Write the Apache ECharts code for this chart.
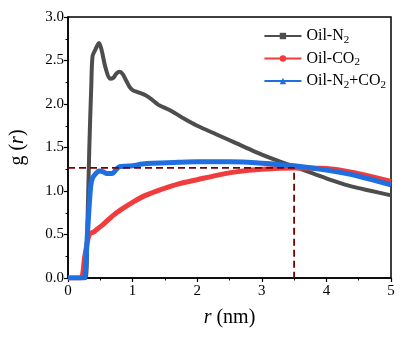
<!DOCTYPE html>
<html><head><meta charset="utf-8">
<script src="https://cdn.jsdelivr.net/npm/echarts@6/dist/echarts.min.js"></script>
<style>html,body{margin:0;padding:0;background:#fff}#c{width:405px;height:343px}</style>
</head><body><div id="c"></div>
<script>
const n2R = [0,0.1,0.2,0.27,0.3,0.33,0.36,0.38,0.42,0.48,0.52,0.58,0.65,0.7,0.75,0.8,0.85,0.9,0.95,1.0,1.1,1.2,1.3,1.4,1.6,1.8,2.0,2.3,2.6,2.9,3.2,3.5,3.8,4.1,4.4,4.7,5.0];
const n2G = [0,0,0,0,0.6,1.5,2.2,2.55,2.62,2.7,2.62,2.42,2.29,2.3,2.35,2.37,2.34,2.27,2.2,2.16,2.13,2.1,2.05,1.99,1.92,1.83,1.75,1.65,1.55,1.45,1.36,1.28,1.2,1.12,1.05,1.0,0.95];
const co2R = [0,0.1,0.2,0.26,0.33,0.4,0.45,0.55,0.7,0.85,1.0,1.2,1.45,1.7,2.0,2.3,2.6,3.0,3.5,4.0,4.5,5.0];
const co2G = [0,0,0,0.25,0.5,0.53,0.56,0.62,0.72,0.8,0.87,0.95,1.02,1.08,1.13,1.18,1.22,1.25,1.265,1.26,1.2,1.11];
const mixR = [0,0.1,0.2,0.25,0.3,0.35,0.38,0.43,0.48,0.55,0.6,0.68,0.75,0.8,0.9,1.0,1.15,1.3,1.7,2.0,2.5,3.0,3.5,4.0,4.5,5.0];
const mixG = [0,0,0,0,0.5,1.05,1.15,1.2,1.23,1.22,1.2,1.2,1.25,1.28,1.285,1.29,1.31,1.32,1.33,1.335,1.335,1.32,1.29,1.24,1.17,1.07];
const refR = [0,3.5,3.5];
const refG = [1.265,1.265,0];
const names = ['Oil-N2','Oil-CO2','Oil-N2+CO2'];
const xTicks = [0,1,2,3,4,5];
const yTicks = ['0.0','0.5','1.0','1.5','2.0','2.5','3.0'];
const zip = (a,b)=>a.map((v,i)=>[v,b[i]]);
const serif = 'Liberation Serif';
const chart = echarts.init(document.getElementById('c'));
const legendLabel = {
  'Oil-N2': '{t|Oil-N}{s|2}',
  'Oil-CO2': '{t|Oil-CO}{s|2}',
  'Oil-N2+CO2': '{t|Oil-N}{s|2}{t|+CO}{s|2}'
};
chart.setOption({
  animation:false,
  grid:{left:66,top:17,right:14,bottom:65,show:true,borderColor:'#000',borderWidth:1.5},
  legend:{
    data:names, right:14, top:23, orient:'vertical', itemWidth:37, itemHeight:8, itemGap:5,
    formatter:n=>legendLabel[n],
    textStyle:{fontFamily:serif,fontSize:16,color:'#000',
      rich:{t:{fontFamily:serif,fontSize:16,color:'#000'},s:{fontFamily:serif,fontSize:11,color:'#000',verticalAlign:'bottom',padding:[8,0,0,0]}}}
  },
  xAxis:{type:'value',min:0,max:5,interval:1,
    name:'{i|r} (nm)',nameLocation:'middle',nameGap:30,
    nameTextStyle:{fontFamily:serif,fontSize:20,color:'#000',rich:{i:{fontFamily:serif,fontStyle:'italic',fontSize:20,color:'#000'}}},
    axisLine:{lineStyle:{color:'#000',width:1.5}},
    axisTick:{show:true,length:4,lineStyle:{color:'#000',width:1.2}},
    minorTick:{show:true,splitNumber:2,length:2.5,lineStyle:{color:'#000'}},
    splitLine:{show:false},
    axisLabel:{fontFamily:serif,fontSize:15,color:'#000',margin:6,formatter:v=>xTicks.includes(v)?String(v):''}
  },
  yAxis:{type:'value',min:0,max:3,interval:0.5,
    name:'g ({i|r})',nameLocation:'middle',nameGap:40,nameRotate:90,
    nameTextStyle:{fontFamily:serif,fontSize:20,color:'#000',rich:{i:{fontFamily:serif,fontStyle:'italic',fontSize:20,color:'#000'}}},
    axisLine:{lineStyle:{color:'#000',width:1.5}},
    axisTick:{show:true,length:4,lineStyle:{color:'#000',width:1.2}},
    minorTick:{show:true,splitNumber:2,length:2.5,lineStyle:{color:'#000'}},
    splitLine:{show:false},
    axisLabel:{fontFamily:serif,fontSize:15,color:'#000',margin:4,formatter:v=>yTicks[Math.round(v*2)]}
  },
  series:[
    {name:names[0],type:'line',data:zip(n2R,n2G),smooth:0.3,showSymbol:false,symbol:'rect',symbolSize:5,
      itemStyle:{color:'#4d4d4d'},lineStyle:{color:'#4d4d4d',width:4}},
    {name:names[1],type:'line',data:zip(co2R,co2G),smooth:0.3,showSymbol:false,symbol:'circle',symbolSize:5,
      itemStyle:{color:'#f03c3c'},lineStyle:{color:'#f03c3c',width:5}},
    {name:names[2],type:'line',data:zip(mixR,mixG),smooth:0.3,showSymbol:false,symbol:'triangle',symbolSize:6,
      itemStyle:{color:'#1f6fe0'},lineStyle:{color:'#1f6fe0',width:5}},
    {name:'ref',type:'line',data:zip(refR,refG),showSymbol:false,symbol:'none',
      lineStyle:{color:'#7a0000',width:1.8,type:[7,4]},z:5}
  ]
});
</script></body></html>
